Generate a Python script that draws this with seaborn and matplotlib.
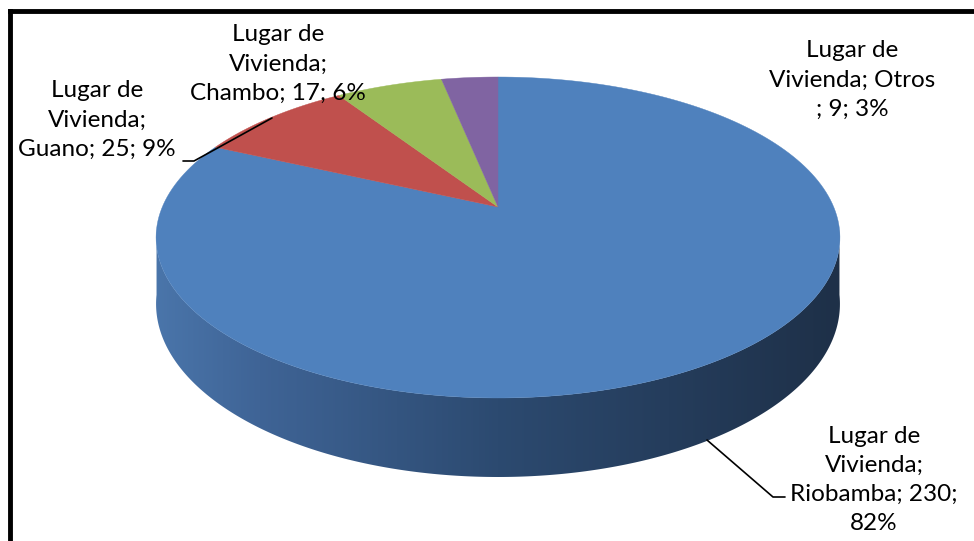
import numpy as np
import matplotlib
matplotlib.use("Agg")
import matplotlib.pyplot as plt
import seaborn as sns
from matplotlib.patches import Polygon
from matplotlib.colors import LinearSegmentedColormap

# datos
categorias = ["Riobamba", "Guano", "Chambo", "Otros"]
valores = [230, 25, 17, 9]
colores = ["#4F81BD", "#C0504D", "#9BBB59", "#8064A2"]
etiquetas = [
    "Lugar de\nVivienda;\nRiobamba; {v};\n{p}%",
    "Lugar de\nVivienda;\nGuano; {v}; {p}%",
    "Lugar de\nVivienda;\nChambo; {v}; {p}%",
    "Lugar de\nVivienda; Otros\n; {v}; {p}%",
]

sns.set_style("white")
plt.rcParams['font.family'] = ['Lato', 'DejaVu Sans']

# geometria del pastel 3D (en pixeles)
cx, cy = 498, 207
A, B, k = 335.7, 154.7, 0.19
D = 64


def proyectar(theta):
    """punto del borde superior y altura del lado para un angulo (horario desde las 12)"""
    x = np.sin(theta)
    y = np.cos(theta)
    w = 1 + k * y
    return cx + A * x / w, cy - B * y / w, D / w


lado_cmap = LinearSegmentedColormap.from_list(
    "lado", [(0, "#4A75AA"), (0.15, "#3F6496"), (0.5, "#2C4A70"), (1, "#1E3048")])

fig = plt.figure(figsize=(9.74, 5.41), dpi=100)
ax = fig.add_axes([0, 0, 1, 1])

total = sum(valores)
fracs = np.array(valores) / total
limites = np.concatenate([[0], np.cumsum(fracs)]) * 2 * np.pi

# lado frontal (con degradado)
angs = np.linspace(np.radians(98), np.radians(262), 300)
u, v, d = proyectar(angs)
contorno = list(zip(u, v)) + list(zip(u[::-1], (v + d)[::-1]))
lado = Polygon(contorno, closed=True, facecolor="none", edgecolor="none")
ax.add_patch(lado)
img = ax.imshow(np.linspace(0, 1, 512)[None, :], cmap=lado_cmap, aspect="auto",
                extent=(u.min(), u.max(), (v + d).max(), v.min()), interpolation="bilinear")
img.set_clip_path(lado)

# cara superior
for i in range(len(valores)):
    th = np.linspace(limites[i], limites[i + 1], 200)
    uu, vv, _ = proyectar(th)
    pts = [(cx, cy)] + list(zip(uu, vv))
    ax.add_patch(Polygon(pts, closed=True, facecolor=colores[i], edgecolor=colores[i], lw=0.3))

# etiquetas
pos_etiquetas = [(874, 480), (97, 120), (278, 64), (852, 80)]
for i in range(len(valores)):
    p = int(round(fracs[i] * 100))
    txt = etiquetas[i].format(v=valores[i], p=p)
    ax.text(pos_etiquetas[i][0], pos_etiquetas[i][1], txt, ha="center", va="center",
            fontsize=17.5, linespacing=1.48, color="black")

# lineas guia
ax.plot([183, 194, 272], [161, 161, 118], color="black", lw=1.2)
ax.plot([707, 773, 785], [440, 497, 497], color="black", lw=1.2)

# borde del grafico
ax.plot([10, 10], [541, 11], color="black", lw=3.5, solid_capstyle="projecting")
ax.plot([10, 974], [11, 11], color="black", lw=3.5, solid_capstyle="projecting")

ax.set_xlim(0, 974)
ax.set_ylim(541, 0)
ax.axis("off")

fig.savefig("out.png", dpi=100)
